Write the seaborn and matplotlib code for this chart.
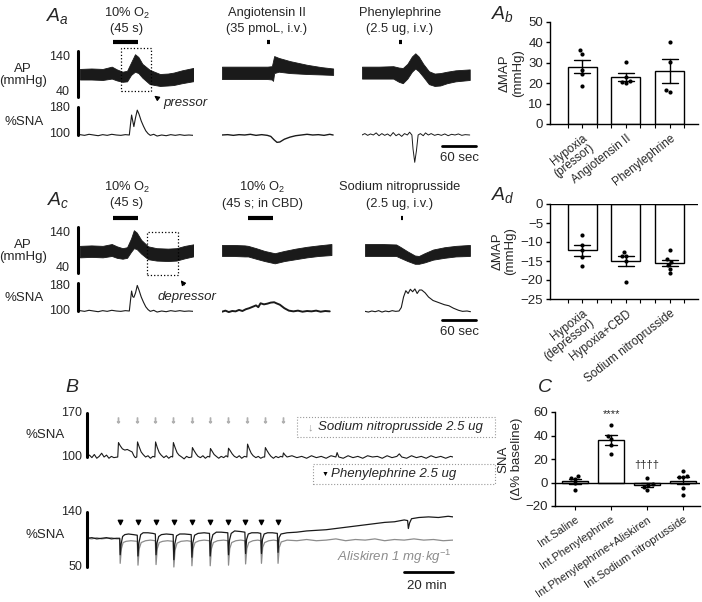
import numpy as np
import pandas as pd
import matplotlib
matplotlib.use('Agg')
import matplotlib.pyplot as plt
import seaborn as sns
from matplotlib.patches import Rectangle

# ---------------- data ----------------
# panel Aa (time in s, AP band top/bottom in mmHg, %SNA)
aa_hyp_t = [0, 20, 40, 56, 65, 75, 83, 90, 97, 103, 110, 123, 141, 155, 165, 180, 203]
aa_hyp_top = [101, 102, 101, 106, 100, 95, 97, 115, 133, 127, 112, 99, 90, 91, 93, 98, 104]
aa_hyp_bot = [78, 78, 77, 80, 76, 73, 74, 88, 95, 92, 82, 68, 64, 65, 66, 70, 75]
aa_hyp_sna_t = [0, 8, 16, 24, 32, 40, 48, 56, 64, 72, 80, 87, 89, 91, 93, 95, 98, 101, 104, 108,
                112, 116, 120, 124, 130, 136, 144, 152, 160, 168, 176, 184, 192, 200]
aa_hyp_sna = [101, 99, 102, 100, 98, 101, 99, 102, 100, 99, 101, 100, 130, 157, 140, 124, 150, 171, 160, 140,
              125, 112, 104, 99, 102, 97, 100, 98, 101, 99, 101, 99, 100, 99]

aa_ang_t = [0, 40, 80, 88, 90, 92, 100, 120, 150, 175, 196]
aa_ang_top = [106, 106, 106, 107, 118, 129, 125, 118, 110, 105, 102]
aa_ang_bot = [79, 79, 79, 78, 75, 92, 95, 92, 90, 89, 88]
aa_ang_sna_t = [0, 10, 20, 30, 40, 50, 60, 70, 80, 86, 92, 97, 102, 110, 120, 130, 140, 150, 160, 170, 180, 190, 196]
aa_ang_sna = [100, 101, 99, 101, 100, 102, 99, 101, 99, 96, 86, 79, 80, 88, 94, 98, 100, 102, 100, 101, 99, 102, 100]

aa_pe_t = [0, 30, 55, 65, 72, 80, 88, 94, 100, 108, 118, 128, 138, 150, 165, 190]
aa_pe_top = [106, 106, 107, 104, 103, 112, 128, 135, 128, 112, 96, 91, 92, 95, 98, 100]
aa_pe_bot = [80, 80, 80, 73, 70, 80, 95, 102, 96, 84, 68, 64, 65, 70, 74, 77]
aa_pe_sna_t = [0, 5, 10, 15, 20, 25, 30, 35, 40, 45, 50, 55, 60, 65, 70, 75, 80, 84, 88, 90, 93, 96, 99,
               103, 108, 112, 117, 122, 128, 134, 140, 146, 152, 158, 164, 170, 176, 182, 190]
aa_pe_sna = [100, 104, 99, 103, 100, 106, 98, 104, 99, 103, 97, 107, 98, 103, 96, 104, 100, 108, 100, 60, 22, 55, 100,
             104, 98, 106, 100, 104, 99, 102, 99, 103, 98, 102, 100, 103, 99, 101, 100]

# panel Ac
ac_hyp_t = [0, 20, 40, 56, 65, 75, 83, 90, 95, 100, 108, 120, 135, 155, 170, 185, 203]
ac_hyp_top = [99, 100, 99, 103, 98, 94, 96, 115, 133, 128, 112, 98, 94, 93, 94, 99, 103]
ac_hyp_bot = [74, 75, 74, 77, 73, 71, 73, 86, 94, 92, 82, 70, 67, 66, 67, 72, 77]
ac_hyp_sna_t = aa_hyp_sna_t
ac_hyp_sna = [101, 99, 102, 100, 98, 101, 99, 102, 100, 99, 101, 100, 130, 157, 141, 139, 152, 173, 160, 140,
              125, 112, 104, 99, 102, 97, 100, 98, 101, 99, 101, 99, 100, 99]

ac_cbd_t = [0, 20, 40, 46, 60, 75, 93, 110, 130, 150, 170, 193]
ac_cbd_top = [101, 101, 100, 99, 94, 88, 83, 88, 93, 97, 100, 103]
ac_cbd_bot = [77, 77, 76, 76, 71, 66, 61, 66, 70, 74, 77, 79]
ac_cbd_sna_t = [0, 6, 12, 18, 24, 30, 36, 42, 48, 54, 60, 64, 68, 74, 80, 86, 92, 96, 102, 110,
                118, 126, 134, 142, 150, 158, 166, 174, 182, 190]
ac_cbd_sna = [98, 101, 97, 100, 99, 103, 100, 105, 108, 112, 116, 111, 122, 119, 121, 124, 125, 122, 118, 108,
              101, 99, 101, 98, 100, 99, 101, 98, 100, 99]

ac_snp_t = [0, 30, 55, 62, 75, 88, 95, 105, 120, 140, 160, 185]
ac_snp_top = [103, 103, 102, 97, 87, 78, 77, 83, 91, 96, 99, 101]
ac_snp_bot = [77, 77, 77, 73, 66, 60, 60, 63, 69, 73, 76, 77]
ac_snp_sna_t = [0, 6, 12, 18, 24, 30, 36, 42, 48, 54, 60, 64, 68, 72, 76, 80, 84, 88, 92, 96,
                100, 106, 112, 120, 130, 140, 148, 156, 165, 172, 180, 186]
ac_snp_sna = [99, 97, 100, 98, 101, 97, 100, 98, 101, 99, 100, 110, 140, 158, 150, 162, 155, 163, 150, 160,
              160, 152, 140, 130, 124, 118, 115, 108, 102, 99, 100, 98]

# panel B (time in min, %SNA)
snp_inj = [12.7, 20.5, 27.9, 35.2, 43.0, 50.4, 57.8, 65.6, 72.9, 80.3]
snp_trace_t = [0, 1, 2, 3, 4, 5, 6, 7, 8, 9, 10, 11, 12.6,
               12.9, 13.6, 14.5, 15.5, 16.5, 17.5, 18.5, 19.2, 19.8, 20.4,
               20.7, 21.4, 22.2, 23, 24, 25, 26, 27, 27.8,
               28.1, 28.8, 29.6, 30.4, 31.5, 32.5, 33.5, 34.5, 35.1,
               35.4, 36.1, 36.9, 37.7, 38.8, 39.8, 40.8, 41.8, 42.9,
               43.2, 43.9, 44.7, 45.5, 46.5, 47.5, 48.5, 49.5, 50.3,
               50.6, 51.3, 52.1, 53, 54, 55, 56, 57, 57.7,
               58.0, 58.7, 59.5, 60.4, 61.4, 62.4, 63.4, 64.5, 65.5,
               65.8, 66.5, 67.3, 68.1, 69.2, 70.2, 71.2, 72.2, 72.8,
               73.1, 73.8, 74.6, 75.4, 76.4, 77.4, 78.4, 79.4, 80.2,
               80.5, 81.2, 82, 84, 86, 88, 90, 92, 94, 96, 98, 100, 102, 102.5, 103.2, 105, 107, 109,
               111, 113, 115, 117, 119, 121, 123, 125, 127, 128, 129, 131, 133, 135, 137, 139, 141,
               143, 145, 147, 149, 150]
snp_trace_v = [100, 103, 99, 104, 98, 101, 106, 100, 103, 98, 101, 99, 100,
               123, 118, 113, 111, 112, 110, 108, 102, 99, 100,
               124, 116, 108, 104, 100, 102, 98, 101, 100,
               124, 115, 107, 103, 99, 102, 98, 101, 100,
               123, 115, 107, 103, 100, 97, 101, 99, 100,
               115, 110, 105, 101, 99, 102, 98, 101, 100,
               113.5, 109, 104, 101, 98, 101, 99, 102, 100,
               114, 110, 105, 101, 99, 102, 98, 101, 100,
               120.5, 113, 106, 102, 99, 101, 98, 100, 100,
               115, 110, 105, 101, 98, 101, 99, 101, 100,
               106.5, 103, 100, 102, 99, 101, 98, 102, 99, 101, 98, 102, 100, 107, 100, 98, 102, 99,
               101, 98, 102, 100, 101, 98, 102, 99, 101, 105, 100, 98, 102, 99, 101, 98, 102,
               99, 101, 98, 101, 100]

pe_inj = [13.5, 20.8, 28.2, 35.5, 42.9, 50.4, 57.9, 64.8, 71.3, 78.1]
pe_trace_t = [0, 2, 4, 6, 8, 10, 12, 13.4, 13.6, 14.0, 14.6, 15.5, 17, 19,
              20.6, 20.9, 21.3, 22, 23, 25, 27, 28.0, 28.3, 28.7, 29.4, 30.5, 32.5,
              35.3, 35.6, 36.0, 36.7, 38, 40, 42.7, 43.0, 43.4, 44.1, 45.5, 48,
              50.2, 50.5, 50.9, 51.6, 53, 55, 57.7, 58.0, 58.4, 59.1, 60.5, 63,
              64.7, 65.0, 65.4, 66.1, 67.5, 70, 71.2, 71.5, 71.9, 72.6, 74, 76,
              78.0, 78.3, 78.7, 79.5, 82, 86, 90, 94, 98, 102, 106, 110, 114, 118, 122, 126,
              130, 131.4, 131.7, 132.2, 133, 136, 140, 144, 148, 150]
pe_trace_v = [97, 98, 96, 97, 98, 96, 97, 97, 70, 88, 100, 103, 104, 103,
              102, 68, 90, 103, 106, 106, 105, 104, 70, 90, 100, 103, 104,
              103, 62, 88, 101, 104, 104, 103, 66, 90, 102, 105, 106,
              105, 68, 92, 103, 107, 107, 106, 70, 94, 105, 109, 108,
              107, 72, 95, 104, 106, 106, 105, 72, 95, 104, 106, 106,
              105, 74, 98, 104, 106, 107, 109, 110, 111, 113, 115, 117, 119, 121, 123, 124,
              127, 126, 113, 122, 129, 131, 132, 131, 133, 132]
alis_trace_t = [0, 2, 4, 6, 8, 10, 12, 13.4, 13.6, 14.1, 14.8, 16, 18,
                20.6, 20.9, 21.4, 22.2, 24, 26, 28.0, 28.3, 28.8, 29.6, 31, 33,
                35.3, 35.6, 36.1, 36.9, 38.5, 41, 42.7, 43.0, 43.5, 44.3, 46, 48,
                50.2, 50.5, 51.0, 51.8, 53.5, 56, 57.7, 58.0, 58.5, 59.3, 61, 63,
                64.7, 65.0, 65.5, 66.3, 68, 70, 71.2, 71.5, 72, 72.8, 74.5, 76.5,
                78.0, 78.3, 78.8, 79.6, 82, 86, 90, 94, 98, 102, 106, 110, 114, 118, 122, 126,
                130, 134, 138, 142, 146, 150]
alis_trace_v = [97, 96, 98, 96, 97, 98, 96, 96, 56, 80, 90, 92, 93,
                92, 53, 80, 90, 93, 94, 93, 54, 80, 90, 92, 93,
                92, 50, 78, 89, 92, 93, 92, 52, 80, 90, 93, 94,
                93, 52, 80, 90, 93, 94, 93, 53, 80, 90, 93, 94,
                93, 55, 80, 90, 93, 94, 93, 56, 82, 90, 93, 94,
                93, 56, 82, 91, 94, 93, 95, 93, 94, 96, 93, 95, 94, 96, 93, 95,
                94, 96, 94, 95, 93, 94]

# bar panels
ab_groups = ['Hypoxia\n(pressor)', 'Angiotensin II', 'Phenylephrine']
ab_values = [[36.2, 34.5, 26.5, 24.4, 18.6],
             [30.6, 23.2, 20.5, 20.0, 21.0],
             [40.2, 30.5, 16.6, 15.8]]
ad_groups = ['Hypoxia\n(depressor)', 'Hypoxia+CBD', 'Sodium nitroprusside']
ad_values = [[-8.1, -10.8, -12.0, -14.0, -16.2],
             [-12.7, -13.6, -13.7, -14.9, -20.4],
             [-12.2, -14.6, -15.2, -16.1, -17.1, -18.2]]
c_groups = ['Int.Saline', 'Int.Phenylephrine', 'Int.Phenylephrine+Aliskiren', 'Int.Sodium nitroprusside']
c_values = [[5.4, 4.0, 3.1, -0.5, -6.8],
            [49.2, 39.3, 37.0, 31.6, 24.0],
            [4.2, -1.0, -2.3, -3.7, -6.5],
            [9.9, 5.6, 4.8, 4.5, -5.0, -10.7]]

# ---------------- style ----------------
sns.set_theme(style='ticks')
plt.rcParams['font.family'] = ['Liberation Sans', 'DejaVu Sans']
plt.rcParams['mathtext.fontset'] = 'custom'
plt.rcParams['mathtext.rm'] = 'Liberation Sans'
plt.rcParams['mathtext.it'] = 'Liberation Sans:italic'

W, H = 702, 602
fig = plt.figure(figsize=(W / 100, H / 100), dpi=100)
fig.patch.set_facecolor('white')
DARK = '#1a1a1a'
GREY = '#8c8c8c'


def px_axes(x0, x1, y_top, y_bot):
    return fig.add_axes([x0 / W, 1 - y_bot / H, (x1 - x0) / W, (y_bot - y_top) / H])


def trace_axes(x0, x1, xlim, v_hi, px_hi, v_lo, px_lo, ylim):
    s = (px_lo - px_hi) / (v_hi - v_lo)
    top = px_hi - (ylim[1] - v_hi) * s
    bot = px_lo + (v_lo - ylim[0]) * s
    ax = px_axes(x0, x1, top, bot)
    ax.set_xlim(xlim)
    ax.set_ylim(ylim)
    ax.axis('off')
    return ax


def ftext(x, y, s, **kw):
    kw.setdefault('ha', 'center')
    kw.setdefault('va', 'center')
    return fig.text(x / W, 1 - y / H, s, **kw)


# ---------------- A traces ----------------
rows = [
    dict(ap=(140, 51, 40, 97), sna=(180, 107, 100, 135),
         traces=[(80, aa_hyp_t, aa_hyp_top, aa_hyp_bot, aa_hyp_sna_t, aa_hyp_sna, (58, 103), 0.8),
                 (222, aa_ang_t, aa_ang_top, aa_ang_bot, aa_ang_sna_t, aa_ang_sna, (79, 84), 1.0),
                 (362, aa_pe_t, aa_pe_top, aa_pe_bot, aa_pe_sna_t, aa_pe_sna, (65, 70), 0.7)]),
    dict(ap=(140, 227, 40, 273), sna=(180, 283, 100, 311),
         traces=[(80, ac_hyp_t, ac_hyp_top, ac_hyp_bot, ac_hyp_sna_t, ac_hyp_sna, (58, 103), 0.8),
                 (222, ac_cbd_t, ac_cbd_top, ac_cbd_bot, ac_cbd_sna_t, ac_cbd_sna, (46, 90), 1.4),
                 (365, ac_snp_t, ac_snp_top, ac_snp_bot, ac_snp_sna_t, ac_snp_sna, (63, 67), 0.8)]),
]
ap_axes, sna_axes = [], []
for row in rows:
    ap_row, sna_row = [], []
    for x0, t, top, bot, st, sv, stim, lw in row['traces']:
        ax = trace_axes(x0, x0 + 113.4, (0, 200), *row['ap'], (30, 150))
        ax.fill_between(t, bot, top, color=DARK, lw=0.6, edgecolor=DARK)
        ax.plot(stim, [160, 160], color='black', lw=3, solid_capstyle='butt', clip_on=False)
        ap_row.append(ax)
        ax2 = trace_axes(x0, x0 + 113.4, (0, 200), *row['sna'], (10, 190))
        ax2.plot(st, sv, color=DARK, lw=lw)
        sna_row.append(ax2)
    ap_axes.append(ap_row)
    sna_axes.append(sna_row)

    # vertical scale bars
    ap_row[0].plot([-3.5, -3.5], [40, 140], color='black', lw=2.2, clip_on=False)
    sna_row[0].plot([-3.5, -3.5], [100, 180], color='black', lw=2.2, clip_on=False)

# scale labels
for (y140, y40, y180, y100, yap, ysna) in [(57, 92, 108, 134, 75, 122), (233, 268, 286, 311, 251, 298)]:
    ftext(70, y140, '140', ha='right', fontsize=9)
    ftext(70, y40, '40', ha='right', fontsize=9)
    ftext(70, y180, '180', ha='right', fontsize=9)
    ftext(70, y100, '100', ha='right', fontsize=9)
    ftext(23, yap, 'AP\n(mmHg)', fontsize=9.5, linespacing=1.1)
    ftext(24, ysna, '%SNA', fontsize=9.5)

# 60 sec bars
sna_axes[0][2].plot([141, 201], [68.6, 68.6], color='black', lw=2, clip_on=False)
ftext(460, 158, '60 sec', fontsize=9.5)
sna_axes[1][2].plot([136, 196], [74, 74], color='black', lw=2, clip_on=False)
ftext(460, 332, '60 sec', fontsize=9.5)

# dotted boxes
ap_axes[0][0].add_patch(Rectangle((72, 53), 53, 93.5, fill=False, ls=':', lw=0.9, ec='black', clip_on=False))
ap_axes[1][0].add_patch(Rectangle((118, 35.7), 55, 93.3, fill=False, ls=':', lw=0.9, ec='black', clip_on=False))
fig.patches.append(matplotlib.patches.FancyArrowPatch((160 / W, 1 - 100 / H), (152 / W, 1 - 94 / H),
                   transform=fig.transFigure, arrowstyle='-|>', mutation_scale=7, color='black', lw=0.9))
ftext(163, 103, 'pressor', ha='left', fontsize=9.5, style='italic')
fig.patches.append(matplotlib.patches.FancyArrowPatch((186 / W, 1 - 287 / H), (179 / W, 1 - 278 / H),
                   transform=fig.transFigure, arrowstyle='-|>', mutation_scale=7, color='black', lw=0.9))
ftext(187, 297, 'depressor', fontsize=9.5, style='italic')

# titles
tfs = 9.3
ftext(127, 13, '10% O$_2$', fontsize=tfs)
ftext(127, 29, '(45 s)', fontsize=tfs)
ftext(267, 13, 'Angiotensin II', fontsize=tfs)
ftext(267, 29, '(35 pmoL, i.v.)', fontsize=tfs)
ftext(400, 13, 'Phenylephrine', fontsize=tfs)
ftext(400, 29, '(2.5 ug, i.v.)', fontsize=tfs)
ftext(127, 187, '10% O$_2$', fontsize=tfs)
ftext(127, 203, '(45 s)', fontsize=tfs)
ftext(262, 187, '10% O$_2$', fontsize=tfs)
ftext(262, 204, '(45 s; in CBD)', fontsize=tfs)
ftext(400, 187, 'Sodium nitroprusside', fontsize=tfs)
ftext(400, 204, '(2.5 ug, i.v.)', fontsize=tfs)

# panel letters
ftext(58, 16, r'$\mathit{A_a}$', fontsize=14)
ftext(503, 14, r'$\mathit{A_b}$', fontsize=14)
ftext(58, 200, r'$\mathit{A_c}$', fontsize=14)
ftext(503, 195, r'$\mathit{A_d}$', fontsize=14)
ftext(72, 387, 'B', fontsize=14, style='italic')
ftext(545, 388, 'C', fontsize=14, style='italic')

# ---------------- B traces ----------------
axb1 = trace_axes(87, 453, (0, 150), 170, 413, 100, 457, (80, 185))
axb1.plot(snp_trace_t, snp_trace_v, color=DARK, lw=0.8)
axb1.scatter(snp_inj, [159] * len(snp_inj), marker=r'$\downarrow$', s=14, color='#b0b0b0', clip_on=False)
axb1.plot([0, 0], [100, 170], color='black', lw=2.2, clip_on=False)

axb2 = trace_axes(87, 453, (0, 150), 140, 512, 50, 567, (40, 150))
axb2.plot(alis_trace_t, alis_trace_v, color=GREY, lw=0.9)
axb2.plot(pe_trace_t, pe_trace_v, color=DARK, lw=0.9)
axb2.scatter(pe_inj, [124] * len(pe_inj), marker='v', s=10, color='black', clip_on=False)
axb2.plot([0, 0], [50, 140], color='black', lw=2.2, clip_on=False)
axb2.plot([130, 150], [41.8, 41.8], color='black', lw=2, clip_on=False)
ftext(427, 586, '20 min', fontsize=9.5)

ftext(82, 413, '170', ha='right', fontsize=9)
ftext(82, 457, '100', ha='right', fontsize=9)
ftext(45, 435, '%SNA', fontsize=9.5)
ftext(82, 512, '140', ha='right', fontsize=9)
ftext(82, 567, '50', ha='right', fontsize=9)
ftext(45, 535, '%SNA', fontsize=9.5)

for (x0, y0, x1, y1) in [(297, 417, 495, 437), (313, 464, 495, 484)]:
    fig.patches.append(Rectangle((x0 / W, 1 - y1 / H), (x1 - x0) / W, (y1 - y0) / H, transform=fig.transFigure,
                                 fill=False, ls=':', lw=0.8, ec='#999999'))
ftext(310, 427, '↓', fontsize=8, color='#a0a0a0')
ftext(318, 427, 'Sodium nitroprusside 2.5 ug', ha='left', fontsize=9.5, style='italic')
ftext(325, 474, '▼', fontsize=5, color='black')
ftext(331, 474, 'Phenylephrine 2.5 ug', ha='left', fontsize=9.5, style='italic')
ftext(452, 557, 'Aliskiren 1 mg·kg$^{-1}$', ha='right', fontsize=9.5, style='italic', color=GREY)


# ---------------- bar panels ----------------
def bar_panel(ax, groups, values, width, rot, xfs, edge_ticks):
    df = pd.DataFrame({'group': np.repeat(groups, [len(v) for v in values]),
                       'value': np.concatenate(values)})
    sns.barplot(data=df, x='group', y='value', order=groups, errorbar='se', capsize=0.35, width=width,
                color='white', edgecolor='black', linewidth=1, saturation=1,
                err_kws={'color': 'black', 'linewidth': 1}, ax=ax)
    sns.swarmplot(data=df, x='group', y='value', order=groups, color='black', size=3, ax=ax)
    ax.set_xlabel('')
    ax.set_xticks(range(len(groups)))
    ax.set_xticklabels(groups, rotation=rot, ha='right', rotation_mode='anchor', fontsize=xfs,
                       multialignment='right', linespacing=1.0)
    if edge_ticks:
        ax.set_xticks([i + d for i in range(len(groups)) for d in (-width / 2, width / 2)], minor=True)
    ax.tick_params(axis='x', which='both', length=3, width=0.8, pad=3, color='black')
    ax.tick_params(axis='y', length=3, width=1, labelsize=9.5, pad=2, color='black')
    sns.despine(ax=ax)
    for s in ['left', 'bottom']:
        ax.spines[s].set_linewidth(1)
        ax.spines[s].set_color('black')


ax_ab = px_axes(550, 698, 22, 124)
bar_panel(ax_ab, ab_groups, ab_values, 0.66, 38, 8.5, True)
ax_ab.set_ylim(0, 50)
ax_ab.set_yticks([0, 10, 20, 30, 40, 50])
ax_ab.set_xlim(-0.73, 2.64)
ax_ab.set_ylabel('ΔMAP\n(mmHg)', fontsize=9.5, linespacing=1.1, labelpad=3)

ax_ad = px_axes(550, 698, 204, 299)
bar_panel(ax_ad, ad_groups, ad_values, 0.66, 38, 8.5, True)
ax_ad.set_ylim(-25, 0)
ax_ad.set_yticks([0, -5, -10, -15, -20, -25])
ax_ad.set_xlim(-0.73, 2.64)
ax_ad.axhline(0, color='black', lw=1)
ax_ad.set_ylabel('ΔMAP\n(mmHg)', fontsize=9.5, linespacing=1.1, labelpad=3)

ax_c = px_axes(555, 700, 412, 506)
bar_panel(ax_c, c_groups, c_values, 0.72, 34, 8, False)
ax_c.set_ylim(-20, 60)
ax_c.set_yticks([-20, 0, 20, 40, 60])
ax_c.set_xlim(-0.56, 3.47)
ax_c.axhline(0, color='black', lw=1)
ax_c.text(1, 58, '****', ha='center', va='center', fontsize=8)
ax_c.text(2, 15, '††††', ha='center', va='center', fontsize=8)
ax_c.set_ylabel('SNA\n(Δ% baseline)', fontsize=9.5, linespacing=1.1, labelpad=2)

fig.savefig('out.png', dpi=100)
